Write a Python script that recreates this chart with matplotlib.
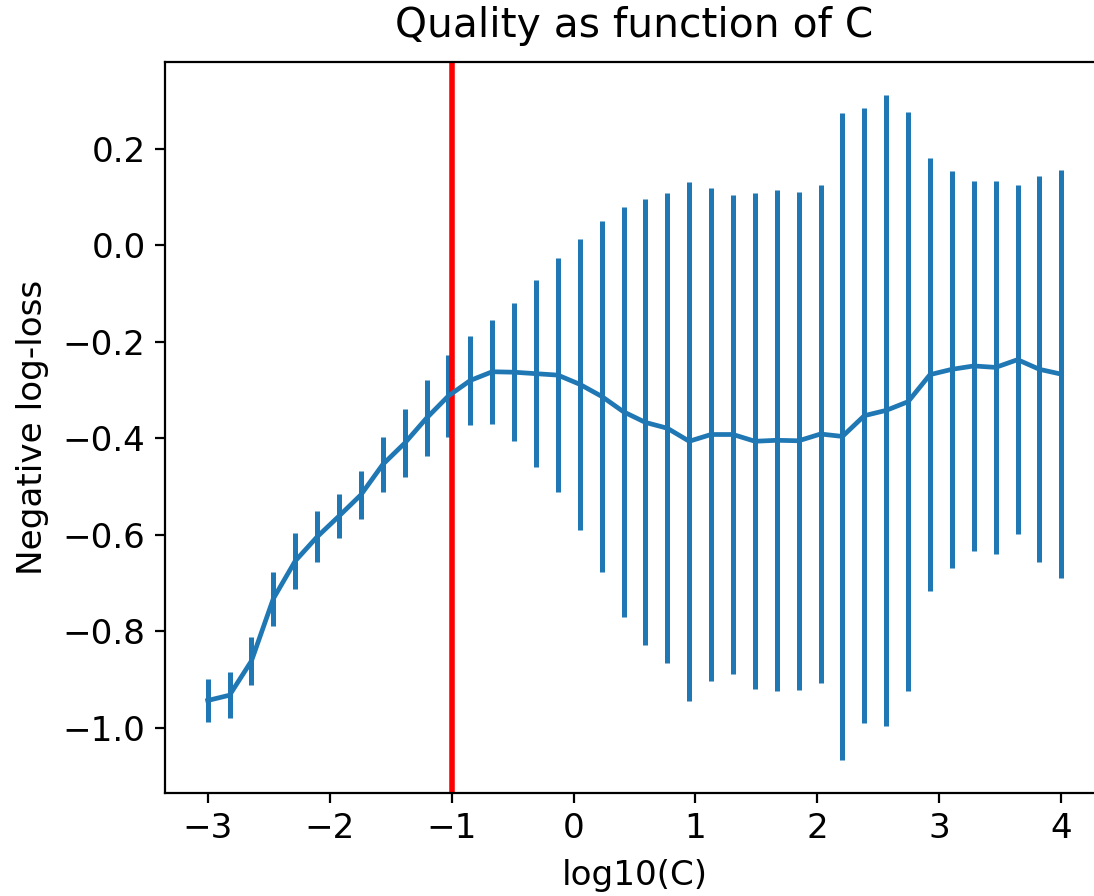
import matplotlib
matplotlib.use("Agg")
import matplotlib.pyplot as plt
import numpy as np

# log10(C) grid: 40 values from -3 to 4
log_c = np.linspace(-3, 4, 40)

# mean negative log-loss per C
mean_score = [
    -0.943, -0.932, -0.861, -0.732, -0.654, -0.604, -0.561, -0.517, -0.454, -0.410,
    -0.358, -0.312, -0.280, -0.262, -0.263, -0.266, -0.269, -0.288, -0.313, -0.345,
    -0.367, -0.379, -0.406, -0.392, -0.392, -0.406, -0.404, -0.405, -0.391, -0.396,
    -0.353, -0.342, -0.324, -0.268, -0.257, -0.250, -0.253, -0.237, -0.257, -0.267,
]

# std of the score across folds
std_score = [
    0.044, 0.048, 0.049, 0.056, 0.057, 0.053, 0.045, 0.049, 0.057, 0.070,
    0.078, 0.085, 0.092, 0.108, 0.143, 0.193, 0.243, 0.301, 0.364, 0.424,
    0.462, 0.487, 0.537, 0.511, 0.497, 0.514, 0.519, 0.516, 0.515, 0.670,
    0.637, 0.654, 0.600, 0.448, 0.411, 0.383, 0.386, 0.361, 0.400, 0.423,
]

best_log_c = -1.0

plt.rcParams["font.size"] = 12.3

fig = plt.figure(figsize=(1094 / 200, 896 / 200), dpi=200)
ax = fig.add_axes([165 / 1094, 103 / 896, 939 / 1094, 731 / 896])

ax.errorbar(log_c, mean_score, yerr=std_score, lw=1.7, elinewidth=1.8)
ax.axvline(best_log_c, color="red", lw=2)

ax.set_xlim(-3.35, 4.35)
ax.set_ylim(-1.1346, 0.3796)
ax.set_xticks(range(-3, 5))
ax.set_yticks([-1.0, -0.8, -0.6, -0.4, -0.2, 0.0, 0.2])

ax.set_title("Quality as function of C", fontsize=14.7, pad=9)
ax.set_xlabel("log10(C)", labelpad=5)
ax.set_ylabel("Negative log-loss", labelpad=5)

fig.savefig("out.png", dpi=200)
